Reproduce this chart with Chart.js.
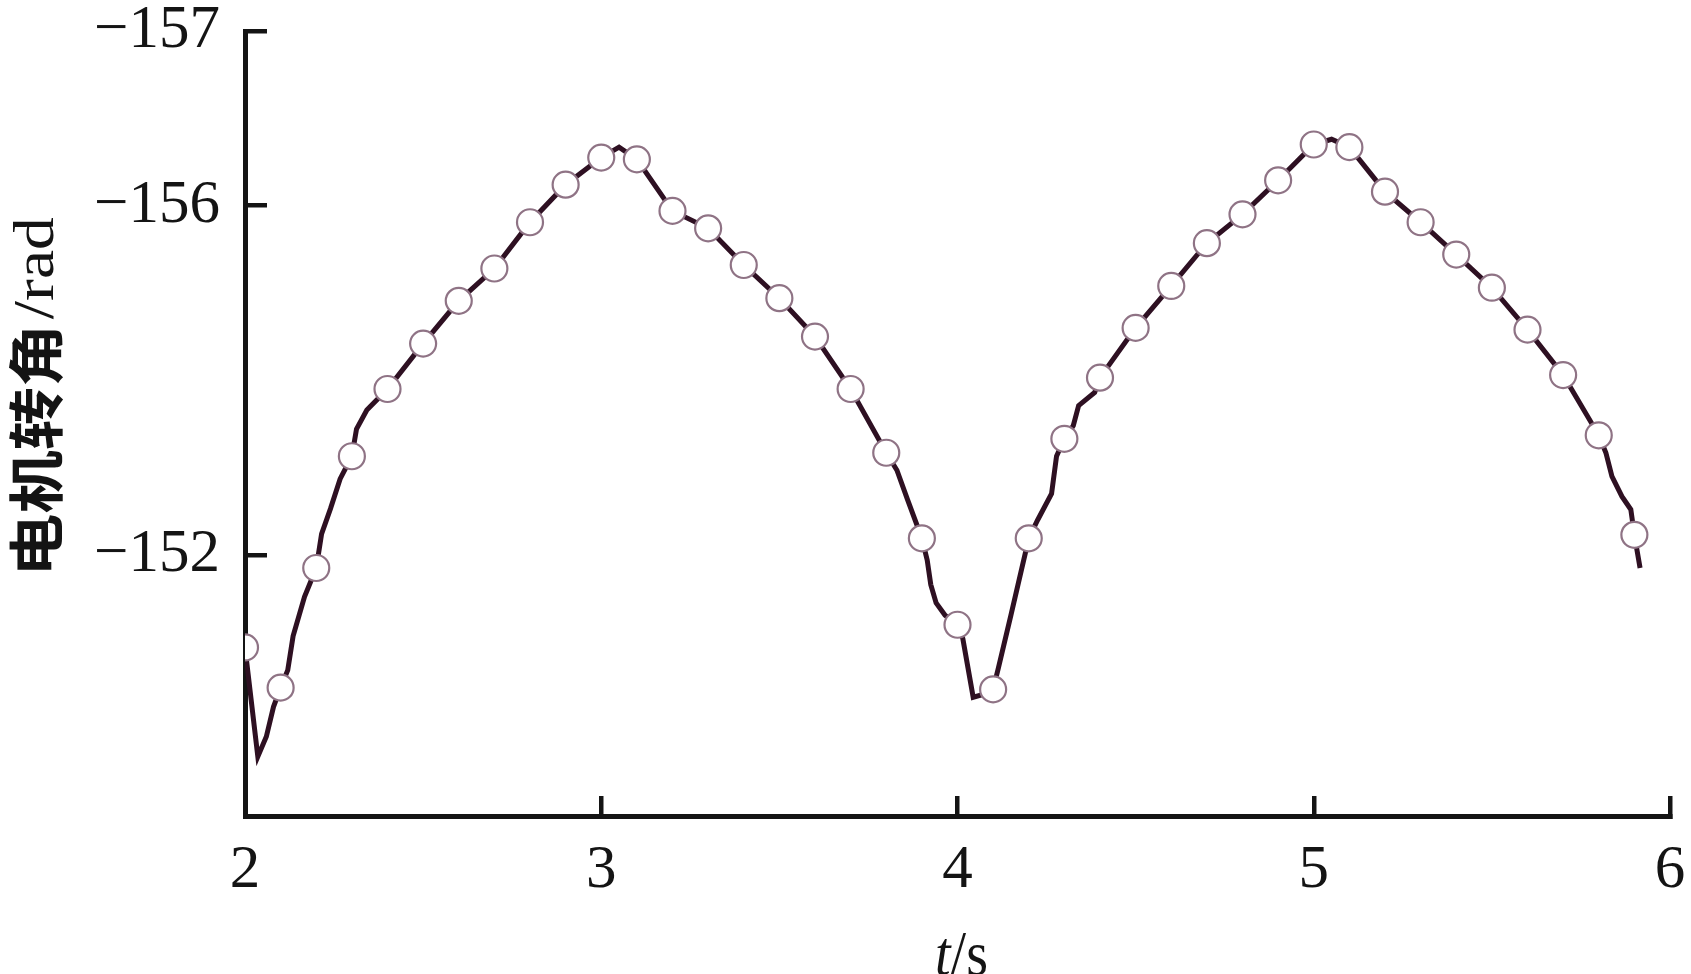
<!DOCTYPE html>
<html>
<head>
<meta charset="utf-8">
<script src="https://cdn.jsdelivr.net/npm/chart.js@4.4.1/dist/chart.umd.min.js"></script>
<style>
  html, body { margin: 0; padding: 0; background: #ffffff; }
  #wrap { width: 1691px; height: 974px; }
</style>
</head>
<body>
<div id="wrap"><canvas id="c" width="1691" height="974"></canvas></div>
<script>
// ---- data ----
const markerT = [2.0, 2.1, 2.2, 2.3, 2.4, 2.5, 2.6, 2.7, 2.8, 2.9,
                 3.0, 3.1, 3.2, 3.3, 3.4, 3.5, 3.6, 3.7, 3.8, 3.9,
                 4.0, 4.1, 4.2, 4.3, 4.4, 4.5, 4.6, 4.7, 4.8, 4.9,
                 5.0, 5.1, 5.2, 5.3, 5.4, 5.5, 5.6, 5.7, 5.8, 5.9];
const markerV = [-150.94, -150.48, -151.85, -153.13, -153.90, -154.42, -154.91, -155.28, -155.81, -156.24,
                 -156.55, -156.53, -155.94, -155.74, -155.32, -154.94, -154.50, -153.90, -153.17, -152.19,
                 -151.20, -150.46, -152.19, -153.33, -154.03, -154.60, -155.08, -155.57, -155.90, -156.29,
                 -156.70, -156.67, -156.16, -155.81, -155.44, -155.06, -154.58, -154.06, -153.37, -152.23];

const lineT = [2.0, 2.036, 2.06, 2.08, 2.1, 2.12, 2.135, 2.167, 2.2, 2.215, 2.24, 2.267, 2.3, 2.313, 2.342, 2.4,
               2.5, 2.6, 2.7, 2.8, 2.9, 3.0, 3.05, 3.1, 3.2, 3.3, 3.4, 3.5, 3.6, 3.7, 3.8, 3.83, 3.86,
               3.9, 3.915, 3.925, 3.94, 3.965, 4.0, 4.015, 4.044, 4.07, 4.1, 4.115, 4.15, 4.2, 4.225, 4.264,
               4.278, 4.3, 4.325, 4.34, 4.385, 4.4, 4.5, 4.6, 4.7, 4.8, 4.9, 5.0, 5.05, 5.1, 5.2, 5.3, 5.4,
               5.5, 5.6, 5.7, 5.8, 5.82, 5.837, 5.865, 5.89, 5.9, 5.916];
const lineV = [-150.94, -149.69, -149.92, -150.26, -150.48, -150.68, -151.07, -151.52, -151.85, -152.24, -152.53, -152.87, -153.13, -153.44, -153.66, -153.90,
               -154.42, -154.91, -155.28, -155.81, -156.24, -156.55, -156.67, -156.53, -155.94, -155.74, -155.32, -154.94, -154.50, -153.90, -153.17, -152.97, -152.63,
               -152.19, -151.94, -151.66, -151.45, -151.31, -151.20, -151.04, -150.37, -150.40, -150.46, -150.71, -151.31, -152.19, -152.40, -152.70,
               -153.13, -153.33, -153.48, -153.71, -153.86, -154.03, -154.60, -155.08, -155.57, -155.90, -156.29, -156.70, -156.76, -156.67, -156.16, -155.81, -155.44,
               -155.06, -154.58, -154.06, -153.37, -153.17, -152.90, -152.67, -152.52, -152.23, -151.85];

const xTickValues = [2, 3, 4, 5, 6];
const xTickLabels = ['2', '3', '4', '5', '6'];
const yTickValues = [-158, -156, -152];
const yTickLabels = ['\u2212157', '\u2212156', '\u2212152'];
const yTitleParts = ['电机转角', '/rad'];
const xTitleParts = ['t', '/s'];

// ---- styling ----
const INK = '#141414';
const serif = '"Liberation Serif", "DejaVu Serif", serif';

const titlePlugin = {
  id: 'axisTitles',
  afterDraw(chart) {
    const ctx = chart.ctx;
    const area = chart.chartArea;
    ctx.save();
    ctx.fillStyle = INK;

    // x title: italic t + upright /s
    ctx.textBaseline = 'alphabetic';
    const fx1 = 'italic 56px ' + serif, fx2 = '56px ' + serif;
    ctx.font = fx1; const w1 = ctx.measureText(xTitleParts[0]).width;
    ctx.font = fx2; const w2 = ctx.measureText(xTitleParts[1]).width;
    const cx = (area.left + area.right) / 2 + 4;
    ctx.save();
    ctx.translate(cx, 975);
    ctx.scale(1, 1.12);
    let x0 = -(w1 + w2) / 2;
    ctx.font = fx1; ctx.textAlign = 'left'; ctx.fillText(xTitleParts[0], x0, 0);
    ctx.font = fx2; ctx.fillText(xTitleParts[1], x0 + w1, 0);
    ctx.restore();

    // y title, rotated
    const fy1 = 'bold 56px "Noto Sans CJK SC", sans-serif', fy2 = '58px ' + serif;
    ctx.font = fy1; const v1 = ctx.measureText(yTitleParts[0]).width;
    ctx.font = fy2; const v2 = ctx.measureText(yTitleParts[1]).width;
    ctx.save();
    ctx.translate(36, 397);
    ctx.rotate(-Math.PI / 2);
    ctx.scale(1.13, 1);
    ctx.textBaseline = 'middle';
    ctx.textAlign = 'left';
    const gap = 4;
    let y0 = -(v1 + gap + v2) / 2;
    ctx.font = fy1; ctx.fillText(yTitleParts[0], y0, 0);
    ctx.font = fy2; ctx.fillText(yTitleParts[1], y0 + v1 + gap, 2);
    ctx.restore();

    ctx.restore();
  }
};

function zeroPad(s) { s.paddingTop = 0; s.paddingBottom = 0; s.paddingLeft = 0; s.paddingRight = 0; }

const ctx = document.getElementById('c').getContext('2d');
new Chart(ctx, {
  type: 'scatter',
  data: {
    datasets: [
      {
        label: 'markers',
        data: markerT.map((t, i) => ({ x: t, y: markerV[i] })),
        showLine: false,
        pointRadius: 13,
        pointBorderWidth: 2.2,
        pointBackgroundColor: '#ffffff',
        pointBorderColor: '#8f7385',
        order: 0
      },
      {
        label: 'line',
        data: lineT.map((t, i) => ({ x: t, y: lineV[i] })),
        showLine: true,
        borderColor: '#2e1022',
        borderWidth: 5,
        pointRadius: 0,
        tension: 0,
        order: 1
      }
    ]
  },
  options: {
    responsive: false,
    animation: false,
    devicePixelRatio: 1,
    layout: { padding: { left: 0, right: 21, top: 31, bottom: 0 } },
    plugins: { legend: { display: false }, tooltip: { enabled: false } },
    scales: {
      x: {
        type: 'linear',
        position: 'bottom',
        min: 2, max: 6,
        afterBuildTicks: (s) => { s.ticks = xTickValues.map(v => ({ value: v })); },
        afterFit: (s) => { s.height = 158; zeroPad(s); },
        ticks: {
          autoSkip: false,
          maxRotation: 0,
          padding: 44,
          color: INK,
          font: { family: serif, size: 61, lineHeight: 1 },
          callback: (v, i) => xTickLabels[i]
        },
        grid: { drawOnChartArea: false, drawTicks: true, tickLength: -20, color: INK, lineWidth: 4.5 },
        border: { display: true, color: INK, width: 5 }
      },
      y: {
        type: 'linear',
        position: 'left',
        reverse: true,
        min: -158, max: -149.01,
        afterBuildTicks: (s) => { s.ticks = yTickValues.map(v => ({ value: v })); },
        afterFit: (s) => { s.width = 245; zeroPad(s); },
        ticks: {
          autoSkip: false,
          padding: 47,
          color: INK,
          font: { family: serif, size: 61, lineHeight: 1 },
          callback: (v, i) => yTickLabels[i]
        },
        grid: { drawOnChartArea: false, drawTicks: true, tickLength: -22, color: INK, lineWidth: 4.5 },
        border: { display: true, color: INK, width: 5 }
      }
    }
  },
  plugins: [titlePlugin]
});
</script>
</body>
</html>
